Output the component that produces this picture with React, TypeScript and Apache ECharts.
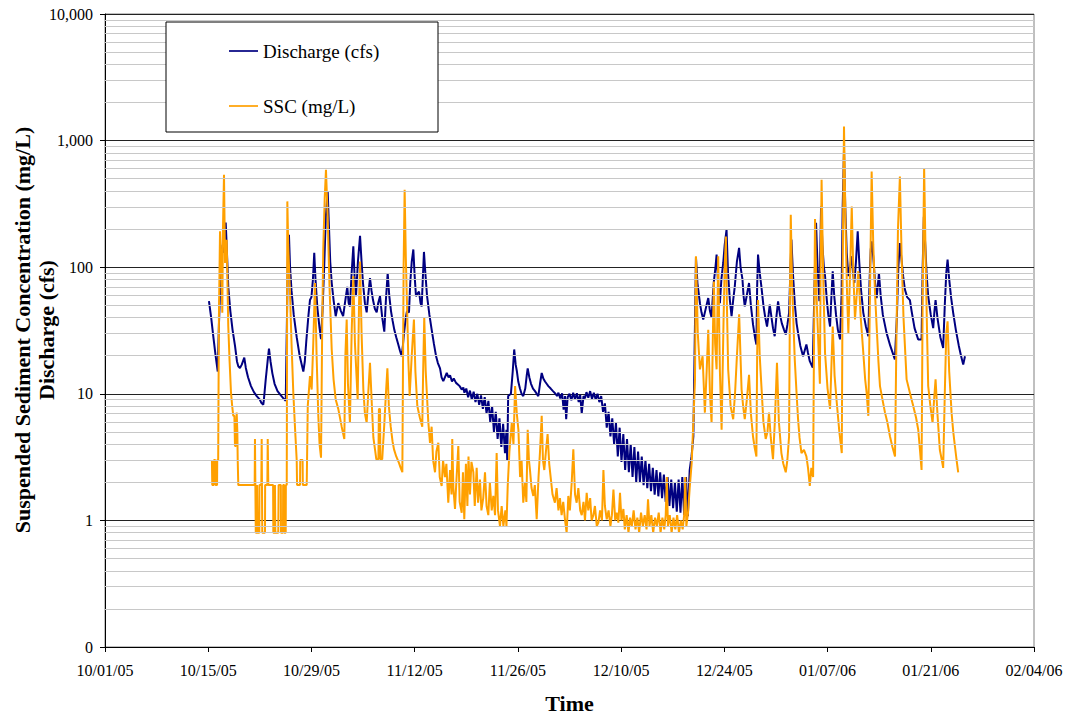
import React, { useEffect, useRef } from "react";
import * as echarts from "echarts";

// Day 0 = 10/01/05
const START_UTC = Date.UTC(2005, 9, 1);
const X_MIN_DAY = 0;
const X_MAX_DAY = 126;
const X_TICK_STEP = 14;
const Y_MIN = 0.1;
const Y_MAX = 10000;

const DISCHARGE_NAME = "Discharge (cfs)";
const SSC_NAME = "SSC (mg/L)";

// ---------- Discharge (cfs): [day since 10/01/05, value] ----------
const dischargeOct: [number, number][] = [
  [14.1, 54], [14.4, 40], [14.7, 28], [15.0, 20], [15.29, 15], [15.45, 35], [15.7, 90], [15.95, 150],
  [16.1, 130], [16.25, 200], [16.37, 225], [16.5, 150], [16.72, 70], [17.0, 45], [17.3, 32], [17.63, 24],
  [17.9, 18], [18.08, 16.5], [18.3, 16], [18.55, 17], [18.89, 19.3], [19.1, 16], [19.4, 13.5], [19.8, 11.5],
  [20.2, 10.3], [20.58, 9.6], [21.0, 9.0], [21.2, 8.5], [21.47, 8.2], [21.55, 9], [21.8, 13], [22.05, 18],
  [22.24, 22.7], [22.45, 18], [22.7, 14.5], [23.0, 12], [23.4, 10.5], [23.8, 9.8], [24.2, 9.2], [24.51, 8.8],
  [24.65, 30], [24.8, 120], [24.95, 180], [25.1, 100], [25.3, 65], [25.6, 42], [26.0, 28], [26.4, 20],
  [26.9, 15], [27.1, 18], [27.3, 26], [27.6, 42], [27.8, 55], [28.0, 58], [28.2, 80], [28.38, 130],
  [28.55, 80], [28.8, 48], [29.1, 33], [29.3, 27], [29.5, 45], [29.75, 110], [29.95, 250], [30.2, 400],
  [30.35, 230], [30.55, 110], [30.75, 75], [31.0, 55], [31.29, 41],
];

const dischargeNovA: [number, number][] = [
  [31.64, 52], [32.0, 45], [32.3, 41], [32.6, 55], [32.86, 70], [33.05, 52], [33.22, 49], [33.45, 90],
  [33.68, 146], [33.85, 85], [34.04, 59], [34.3, 110], [34.59, 177], [34.8, 110], [34.99, 75], [35.25, 52],
  [35.49, 44], [35.7, 60], [35.94, 82], [36.15, 65], [36.35, 55], [36.6, 47], [36.85, 44], [37.05, 52],
  [37.3, 59], [37.6, 40], [37.88, 31], [38.1, 55], [38.34, 90], [38.55, 60], [38.79, 45], [39.0, 38],
  [39.24, 32], [39.5, 28], [39.74, 25], [40.0, 22], [40.24, 19.8], [40.4, 24], [40.55, 30], [40.8, 40],
  [40.96, 45], [41.23, 44], [41.4, 75], [41.6, 110], [41.82, 138], [42.0, 85], [42.18, 59], [42.4, 62],
  [42.59, 64], [42.8, 52], [42.95, 49], [43.1, 80], [43.26, 132], [43.45, 90], [43.67, 60], [44.0, 42],
  [44.31, 32], [44.6, 25], [44.89, 20], [45.15, 17.5], [45.44, 15.9], [45.65, 13.5], [45.88, 12.6], [46.1, 13.5],
  [46.35, 14.6], [46.6, 13.5], [46.8, 14], [47.06, 12.5], [47.3, 13.2], [47.61, 12.2], [47.9, 11.8], [48.1, 11.5],
  [48.38, 10.8],
];

const dischargeNovBand: [number, number][] = [
  [48.6, 11.2], [48.75, 10.2], [49.0, 11.0], [49.25, 9.4], [49.5, 10.6], [49.75, 9.0], [50.0, 10.4], [50.25, 8.6],
  [50.5, 10.0], [50.75, 8.2], [51.0, 9.7], [51.25, 7.6], [51.5, 9.4], [51.75, 7.0], [52.0, 8.8], [52.25, 6.0],
  [52.5, 8.0], [52.75, 5.0], [53.0, 7.2], [53.25, 4.4], [53.5, 6.4], [53.75, 3.8], [54.0, 5.8], [54.25, 3.4],
  [54.45, 5.2], [54.55, 3.0],
];

const dischargeNovB: [number, number][] = [
  [54.6, 4.5], [54.68, 9.6], [55.05, 10], [55.3, 15], [55.5, 22.4], [55.7, 17], [55.87, 15], [56.05, 12.5],
  [56.28, 11], [56.5, 10], [56.73, 9.6], [57.0, 11], [57.2, 14], [57.33, 15.9], [57.55, 13.5], [57.78, 12],
  [58.05, 11], [58.32, 10.5], [58.55, 10], [58.77, 9.6], [59.0, 12], [59.23, 14.6], [59.45, 13.2], [59.68, 12.5],
  [59.9, 12], [60.13, 11.5], [60.45, 11], [60.76, 10.5], [61.1, 10], [61.3, 9.6],
];

const dischargeDecBand: [number, number][] = [
  [61.5, 10.2], [61.75, 9.2], [62.0, 10.1], [62.2, 7.5], [62.4, 9.6], [62.55, 6.3], [62.75, 9.4], [63.0, 10.0],
  [63.25, 8.9], [63.5, 10.2], [63.75, 9.0], [64.0, 10.1], [64.25, 8.6], [64.45, 9.8], [64.66, 7.0], [64.9, 9.6],
  [65.1, 9.2], [65.3, 10.3], [65.55, 9.3], [65.8, 10.5], [66.05, 9.1], [66.3, 10.2], [66.55, 9.0], [66.8, 10.0],
  [67.05, 8.6], [67.3, 9.6], [67.55, 7.2], [67.8, 8.4], [68.05, 5.4], [68.3, 7.2], [68.55, 4.6], [68.8, 6.4],
  [69.05, 4.0], [69.3, 5.9], [69.55, 3.2], [69.8, 5.4], [70.05, 2.9], [70.3, 4.8], [70.55, 2.5], [70.8, 4.4],
  [71.05, 2.4], [71.3, 4.0], [71.55, 2.2], [71.8, 3.8], [72.05, 2.0], [72.3, 3.5], [72.55, 2.0], [72.8, 3.2],
  [73.05, 1.9], [73.3, 3.0], [73.55, 1.8], [73.8, 2.8], [74.05, 1.7], [74.3, 2.6], [74.55, 1.6], [74.8, 2.5],
  [75.05, 1.55], [75.3, 2.4], [75.55, 1.5], [75.8, 2.3], [76.05, 1.4], [76.3, 2.2], [76.55, 1.3], [76.8, 2.1],
  [77.05, 1.25], [77.3, 2.0], [77.55, 1.17], [77.8, 2.1], [78.05, 1.15], [78.3, 2.2], [78.55, 1.1], [78.8, 2.2],
  [79.05, 1.08], [79.3, 2.5], [79.55, 3.2],
];

const dischargeDec: [number, number][] = [
  [79.8, 4.6], [80.0, 30], [80.15, 120], [80.35, 75], [80.69, 52], [80.9, 44], [81.14, 38.6], [81.4, 45],
  [81.65, 52], [81.82, 57], [82.05, 45], [82.27, 40], [82.45, 60], [82.58, 77], [82.8, 100], [82.95, 126],
  [83.15, 75], [83.4, 52], [83.6, 80], [83.85, 108], [84.05, 150], [84.3, 198], [84.5, 90], [84.75, 55],
  [84.98, 41], [85.2, 55], [85.42, 70.7], [85.7, 110], [86.0, 142], [86.2, 100], [86.46, 80], [86.6, 60],
  [86.77, 49], [87.05, 60], [87.35, 75], [87.6, 50], [87.9, 35], [88.15, 28], [88.35, 24.5], [88.45, 70],
  [88.57, 126], [88.8, 90], [89.03, 70], [89.3, 50], [89.55, 40], [89.79, 34], [90.0, 42], [90.16, 50.7],
  [90.4, 40], [90.6, 33], [90.83, 28.5], [91.05, 40], [91.29, 53.8], [91.55, 42], [91.8, 36], [92.1, 32],
  [92.33, 29.4], [92.55, 35], [92.78, 43.6], [92.95, 90], [93.1, 165], [93.3, 90], [93.55, 52], [93.8, 36],
  [94.0, 30.3], [94.3, 24], [94.68, 19.8], [94.9, 22], [95.13, 24.5], [95.35, 21], [95.59, 18.1], [95.8, 17],
  [95.99, 16.1],
];

const dischargeJan: [number, number][] = [
  [96.2, 60], [96.44, 224], [96.65, 100], [96.89, 53.8], [97.0, 120], [97.12, 302], [97.3, 150], [97.5, 100],
  [97.66, 85], [97.9, 55], [98.1, 42], [98.34, 34], [98.5, 55], [98.7, 93], [98.9, 60], [99.15, 42],
  [99.4, 32], [99.69, 26.9], [99.9, 60], [100.05, 300], [100.23, 846], [100.4, 300], [100.6, 130], [100.82, 85],
  [101.05, 100], [101.28, 122], [101.45, 90], [101.63, 75], [101.85, 110], [102.09, 192], [102.3, 110], [102.55, 65],
  [102.85, 43.6], [103.2, 34], [103.53, 28.5], [103.7, 80], [103.86, 138], [104.0, 160], [104.2, 120], [104.45, 75],
  [104.66, 57], [104.8, 70], [104.97, 90], [105.2, 60], [105.5, 42], [106.0, 30.3], [106.5, 24], [107.13, 18.7],
  [107.4, 40], [107.6, 100], [107.81, 155], [108.0, 120], [108.25, 85], [108.49, 66.6], [108.8, 58], [109.17, 55],
  [109.4, 45], [109.8, 33], [110.29, 26.9], [110.75, 26.9], [110.9, 100], [111.06, 250], [111.25, 150], [111.45, 85],
  [111.65, 59], [112.0, 42], [112.33, 33], [112.5, 45], [112.65, 55], [112.9, 40], [113.3, 28], [113.68, 23],
  [113.9, 50], [114.1, 90], [114.28, 115], [114.5, 80], [114.75, 58], [115.04, 43.6], [115.4, 32], [115.8, 24],
  [116.1, 20], [116.4, 17], [116.64, 19.8],
];

// ---------- SSC (mg/L): [day since 10/01/05, value] ----------
const sscOct: [number, number][] = [
  [14.5, 3.0], [14.55, 1.9], [14.75, 1.9], [14.78, 3.0], [14.95, 3.0], [14.98, 1.9], [15.2, 1.9], [15.22, 3.0],
  [15.35, 3.0], [15.45, 40], [15.6, 192], [15.75, 120], [15.91, 43.6], [16.0, 200], [16.14, 537], [16.28, 108],
  [16.4, 140], [16.51, 165], [16.6, 80], [16.72, 34], [16.9, 18], [17.09, 10.2], [17.25, 8], [17.4, 6.7],
  [17.55, 6.7], [17.63, 3.87], [17.75, 3.87], [17.86, 7.1], [17.95, 5], [18.0, 3.0], [18.08, 1.9], [20.3, 1.9],
  [20.34, 4.4], [20.42, 4.4], [20.45, 0.8], [20.6, 0.8], [20.62, 1.9], [20.7, 0.8], [20.93, 0.8], [20.95, 1.9],
  [21.2, 1.9], [21.25, 4.4], [21.3, 4.4], [21.33, 0.8], [21.7, 0.8], [21.72, 1.9], [22.02, 1.9], [22.07, 4.4],
  [22.12, 4.4], [22.15, 1.9], [22.8, 1.9], [22.83, 0.8], [23.0, 0.8], [23.05, 1.9], [23.1, 0.8], [23.5, 0.8],
  [23.55, 1.9], [23.85, 1.9], [23.87, 0.8], [24.14, 0.8], [24.16, 1.9], [24.3, 1.9], [24.32, 0.8], [24.51, 0.8],
  [24.53, 1.9], [24.65, 1.9], [24.73, 331], [24.85, 150], [25.09, 62], [25.3, 25], [25.54, 10.2], [25.8, 5],
  [26.0, 3.0], [26.05, 1.9], [26.45, 1.9], [26.48, 3.0], [26.8, 3.0], [26.83, 1.9], [27.36, 1.9], [27.5, 8],
  [27.8, 13.8], [28.03, 10.8], [28.25, 25.3], [28.48, 75], [28.7, 20], [28.93, 6.7], [29.1, 4], [29.3, 3.13],
  [29.45, 30], [29.6, 138], [29.8, 350], [29.97, 589], [30.2, 252], [30.45, 70], [30.75, 22.4], [31.0, 13],
  [31.29, 9],
];

const sscNovA: [number, number][] = [
  [31.64, 7.6], [32.1, 5.5], [32.46, 4.4], [32.6, 20], [32.78, 38.6], [32.95, 12], [33.22, 5.9], [33.45, 30],
  [33.68, 85], [33.9, 25], [34.27, 9], [34.45, 50], [34.59, 111], [34.8, 30], [35.04, 10.8], [35.25, 7],
  [35.49, 5.9], [35.7, 10], [35.94, 17.6], [36.2, 8], [36.4, 4.5], [36.62, 3.64], [36.8, 3.04], [37.08, 3.04],
  [37.15, 7.6], [37.3, 7.6], [37.35, 3.04], [37.6, 3.04], [37.9, 6], [38.1, 10], [38.3, 15.9], [38.5, 8],
  [38.75, 5.5], [39.0, 4.2], [39.2, 3.64], [39.5, 3.2], [39.87, 2.85], [40.1, 2.6], [40.33, 2.4], [40.5, 100],
  [40.64, 409], [40.8, 120], [41.0, 41], [41.15, 18], [41.32, 9.6], [41.6, 20], [41.9, 38.6], [42.1, 15],
  [42.36, 8.0], [42.7, 6.5], [43.03, 5.5], [43.15, 15], [43.3, 40],
];

const sscNovB: [number, number][] = [
  [43.5, 15], [43.67, 9.6], [43.85, 6], [44.08, 4.1], [44.3, 5.5], [44.5, 3.0], [44.76, 2.4], [44.95, 3.5],
  [45.21, 4.1], [45.4, 2.2], [45.66, 1.87], [45.85, 3.0], [46.11, 2.2], [46.3, 2.8], [46.56, 1.38], [46.8, 2.5],
  [47.0, 1.6], [47.1, 4.4], [47.25, 1.8], [47.47, 1.23], [47.65, 2.0], [47.92, 3.87], [48.1, 1.4], [48.38, 1.15],
  [48.55, 2.4], [48.73, 1.02], [48.95, 2.8], [49.15, 1.3], [49.3, 3.2], [49.5, 1.6], [49.7, 2.9], [49.96, 2.4],
  [50.15, 1.3], [50.41, 2.6], [50.6, 1.38], [50.86, 2.1], [51.05, 1.2], [51.3, 1.5], [51.54, 2.4], [51.75, 1.3],
  [51.99, 1.1], [52.2, 2.0], [52.45, 1.2], [52.67, 1.56], [52.9, 1.1], [53.12, 3.4], [53.3, 1.2], [53.57, 0.9],
  [53.8, 1.3], [54.03, 0.9], [54.3, 1.2], [54.45, 0.9], [54.62, 1.87], [54.85, 3.5], [55.17, 5.9], [55.4, 4.0],
  [55.62, 11.5], [55.85, 7], [56.07, 5.2], [56.3, 2.2], [56.5, 3.0], [56.73, 1.38], [56.98, 2.0], [57.15, 1.4],
  [57.33, 5.2], [57.5, 3.0], [57.64, 2.5], [57.85, 1.8], [58.09, 1.56], [58.3, 1.9], [58.55, 1.02], [58.8, 2.2],
  [59.0, 3.5], [59.23, 6.7], [59.4, 3.0], [59.58, 2.5], [59.8, 3.5], [60.03, 4.8], [60.25, 2.8], [60.48, 2.1],
  [60.7, 1.6], [61.02, 1.38],
];

const sscDec: [number, number][] = [
  [61.25, 1.8], [61.5, 1.2], [61.7, 1.5], [61.93, 1.1], [62.15, 1.4], [62.4, 1.0], [62.61, 0.8], [62.84, 1.56],
  [63.05, 1.2], [63.3, 2.0], [63.52, 3.64], [63.75, 1.6], [63.97, 1.38], [64.2, 1.8], [64.45, 1.2], [64.66, 1.1],
  [64.9, 1.4], [65.1, 1.0], [65.33, 1.65], [65.55, 1.2], [65.8, 1.5], [66.0, 1.0], [66.24, 1.1], [66.45, 1.3],
  [66.7, 0.9], [66.92, 0.96], [67.15, 1.2], [67.4, 1.0], [67.6, 2.5], [67.8, 1.3], [68.05, 1.02], [68.3, 1.2],
  [68.55, 0.9], [68.75, 1.1], [68.96, 1.75], [69.2, 1.0], [69.4, 1.15], [69.63, 0.96], [69.85, 1.65], [70.05, 1.0],
  [70.31, 1.23], [70.5, 0.85], [70.75, 1.1], [71.0, 0.8], [71.2, 1.05], [71.45, 0.9], [71.7, 1.2], [71.95, 0.85],
  [72.2, 1.05], [72.45, 0.8], [72.7, 1.15], [72.95, 0.9], [73.2, 1.1], [73.45, 0.85], [73.65, 1.47], [73.85, 0.9],
  [74.1, 1.1], [74.35, 0.8], [74.6, 1.05], [74.85, 0.9], [75.1, 1.15], [75.35, 0.8], [75.6, 1.05], [75.85, 0.85],
  [76.05, 1.1], [76.2, 2.2], [76.35, 0.9], [76.6, 1.1], [76.85, 0.8], [77.1, 1.05], [77.35, 0.85], [77.6, 1.1],
  [77.85, 0.8], [78.1, 1.0], [78.35, 0.85], [78.55, 1.1], [78.7, 2.2], [78.85, 0.9], [79.08, 1.15], [79.3, 1.8],
  [79.57, 2.85],
];

const sscJan: [number, number][] = [
  [79.8, 6], [80.02, 13], [80.15, 122], [80.4, 30], [80.69, 15.6], [81.05, 19.8], [81.36, 7.1], [81.6, 15],
  [81.82, 32], [82.05, 10], [82.27, 5.9], [82.45, 30], [82.58, 77], [82.75, 25], [82.95, 15.6], [83.17, 122],
  [83.4, 15], [83.63, 5.2], [83.9, 40], [84.05, 100], [84.21, 175], [84.35, 50], [84.52, 15.6], [84.85, 8],
  [85.2, 6.3], [85.45, 10], [85.66, 17.6], [86.01, 42.5], [86.34, 10.8], [86.55, 8], [86.77, 6.3], [87.05, 9],
  [87.35, 14.1], [87.6, 7], [87.89, 4.6], [88.1, 3.8], [88.35, 3.2], [88.45, 20], [88.57, 55], [88.8, 20],
  [89.03, 11.5], [89.3, 6], [89.61, 4.4], [89.85, 5], [90.06, 7.1], [90.3, 4.5], [90.6, 3.04], [90.85, 6],
  [91.14, 17.6], [91.4, 6], [91.74, 3.4], [92.0, 2.8], [92.33, 2.4], [92.55, 3.0], [92.78, 4.6], [92.9, 60],
  [93.01, 260], [93.2, 70], [93.55, 18.7], [93.8, 10], [94.0, 6.3], [94.2, 4.5], [94.46, 3.4], [94.8, 3.6],
  [95.13, 3.2], [95.35, 2.6], [95.59, 1.87], [95.8, 2.6], [96.04, 2.2], [96.15, 20], [96.3, 240], [96.5, 60],
  [96.75, 25], [96.96, 12], [97.05, 80], [97.19, 490], [97.4, 90], [97.66, 21], [98.0, 11], [98.34, 7.6],
  [98.5, 15], [98.7, 34], [98.95, 14], [99.25, 8.5], [99.6, 5], [99.93, 3.4], [100.05, 100], [100.23, 1290],
  [100.45, 200], [100.65, 60], [100.82, 30.3], [101.05, 90], [101.28, 302], [101.5, 90], [101.72, 38.6], [101.95, 60],
  [102.17, 93], [102.5, 40], [102.85, 21], [103.1, 13], [103.3, 10.2], [103.53, 6.7], [103.75, 60], [103.98, 570],
  [104.2, 150], [104.45, 60], [104.66, 34], [104.9, 18], [105.11, 11.5], [105.45, 9], [105.79, 7.1], [106.1, 6],
  [106.47, 4.6], [106.8, 3.8], [107.15, 3.2], [107.35, 30], [107.55, 200], [107.81, 521], [108.05, 120], [108.3, 40],
  [108.72, 13], [109.2, 10], [109.62, 8.0], [110.0, 6.5], [110.3, 5.2], [110.55, 3.5], [110.75, 2.5], [110.9, 60],
  [111.1, 607], [111.3, 120], [111.5, 30], [111.65, 11.5], [111.95, 8], [112.24, 5.9], [112.45, 9], [112.65, 13],
  [112.9, 7], [113.23, 3.6], [113.5, 3.0], [113.68, 2.6], [113.9, 10], [114.1, 30], [114.28, 37.4], [114.5, 15],
  [114.82, 7.1], [115.05, 5], [115.27, 3.87], [115.5, 3.0], [115.72, 2.4],
];

const dischargeData = [
  ...dischargeOct, ...dischargeNovA, ...dischargeNovBand, ...dischargeNovB,
  ...dischargeDecBand, ...dischargeDec, ...dischargeJan,
];
const sscData = [...sscOct, ...sscNovA, ...sscNovB, ...sscDec, ...sscJan];

// minor (2..9 x decade) gridline levels for the log axis
const minorGridLevels: number[] = [];
for (const decade of [0.1, 1, 10, 100, 1000]) {
  for (let m = 2; m <= 9; m++) minorGridLevels.push(+(m * decade).toPrecision(3));
}

const SERIF = '"Liberation Serif", "Times New Roman", serif';

function formatDay(d: number): string {
  const t = new Date(START_UTC + Math.round(d) * 86400000);
  const mm = String(t.getUTCMonth() + 1).padStart(2, "0");
  const dd = String(t.getUTCDate()).padStart(2, "0");
  const yy = String(t.getUTCFullYear() % 100).padStart(2, "0");
  return `${mm}/${dd}/${yy}`;
}

function formatY(v: number): string {
  if (v < 1) return "0";
  return Math.round(v).toLocaleString("en-US");
}

export default function App() {
  const ref = useRef<HTMLDivElement>(null);

  useEffect(() => {
    if (!ref.current) return;
    const chart = echarts.init(ref.current, null, { renderer: "svg" });
    const option: any = {
      animation: false,
      backgroundColor: "#ffffff",
      grid: {
        left: 105,
        right: 32,
        top: 14,
        bottom: 71,
        show: true,
        borderColor: "#808080",
        borderWidth: 1,
        backgroundColor: "transparent",
      },
      xAxis: {
        type: "value",
        min: X_MIN_DAY,
        max: X_MAX_DAY,
        interval: X_TICK_STEP,
        name: "Time",
        nameLocation: "middle",
        nameGap: 45,
        nameTextStyle: { fontFamily: SERIF, fontSize: 22, fontWeight: "bold", color: "#000" },
        axisLine: { show: true, lineStyle: { color: "#000", width: 1 } },
        axisTick: { show: true, inside: false, length: 5, lineStyle: { color: "#000" } },
        axisLabel: {
          formatter: (v: number) => formatDay(v),
          fontFamily: SERIF,
          fontSize: 16,
          color: "#000",
          margin: 15,
        },
        splitLine: { show: false },
      },
      yAxis: {
        type: "log",
        logBase: 10,
        min: Y_MIN,
        max: Y_MAX,
        axisLine: { show: true, lineStyle: { color: "#000", width: 1 } },
        axisTick: { show: true, inside: false, length: 5, lineStyle: { color: "#000" } },
        axisLabel: {
          formatter: (v: number) => formatY(v),
          fontFamily: SERIF,
          fontSize: 16,
          color: "#000",
          margin: 12,
        },
        splitLine: { show: true, lineStyle: { color: "#222", width: 1 } },
        minorTick: { show: false },
      },
      series: [
        {
          name: "minorGrid",
          type: "line",
          data: [],
          z: 1,
          silent: true,
          markLine: {
            silent: true,
            symbol: ["none", "none"],
            label: { show: false },
            emphasis: { disabled: true },
            lineStyle: { color: "#c8c8c8", width: 1, type: "solid" },
            data: minorGridLevels.map((v) => ({ yAxis: v })),
          },
        },
        {
          name: DISCHARGE_NAME,
          type: "line",
          data: dischargeData,
          showSymbol: false,
          symbol: "none",
          z: 3,
          lineStyle: { color: "#000080", width: 2 },
        },
        {
          name: SSC_NAME,
          type: "line",
          data: sscData,
          showSymbol: false,
          symbol: "none",
          z: 4,
          lineStyle: { color: "#FFA000", width: 2 },
        },
      ],
      graphic: [
        {
          type: "text",
          x: 22,
          y: 330,
          rotation: Math.PI / 2,
          z: 100,
          style: {
            text: "Suspended Sediment Concentration (mg/L)",
            fontFamily: SERIF,
            fontSize: 22,
            fontWeight: "bold",
            fill: "#000",
            align: "center",
            verticalAlign: "middle",
          },
        },
        {
          type: "text",
          x: 46,
          y: 330,
          rotation: Math.PI / 2,
          z: 100,
          style: {
            text: "Discharge (cfs)",
            fontFamily: SERIF,
            fontSize: 22,
            fontWeight: "bold",
            fill: "#000",
            align: "center",
            verticalAlign: "middle",
          },
        },
        {
          type: "rect",
          z: 100,
          shape: { x: 166, y: 22, width: 272, height: 110 },
          style: { fill: "#fff", stroke: "#000", lineWidth: 1 },
        },
        {
          type: "line",
          z: 101,
          shape: { x1: 229, y1: 51, x2: 258, y2: 51 },
          style: { stroke: "#000080", lineWidth: 1.7 },
        },
        {
          type: "text",
          x: 263,
          y: 51,
          z: 101,
          style: {
            text: DISCHARGE_NAME,
            fontFamily: SERIF,
            fontSize: 19,
            fill: "#000",
            align: "left",
            verticalAlign: "middle",
          },
        },
        {
          type: "line",
          z: 101,
          shape: { x1: 229, y1: 106, x2: 258, y2: 106 },
          style: { stroke: "#FFA000", lineWidth: 1.7 },
        },
        {
          type: "text",
          x: 263,
          y: 106,
          z: 101,
          style: {
            text: SSC_NAME,
            fontFamily: SERIF,
            fontSize: 19,
            fill: "#000",
            align: "left",
            verticalAlign: "middle",
          },
        },
      ],
    };
    chart.setOption(option);
    return () => chart.dispose();
  }, []);

  return (
    <div
      ref={ref}
      style={{ position: "fixed", left: 0, top: 0, width: 1066, height: 719, background: "#fff" }}
    />
  );
}
